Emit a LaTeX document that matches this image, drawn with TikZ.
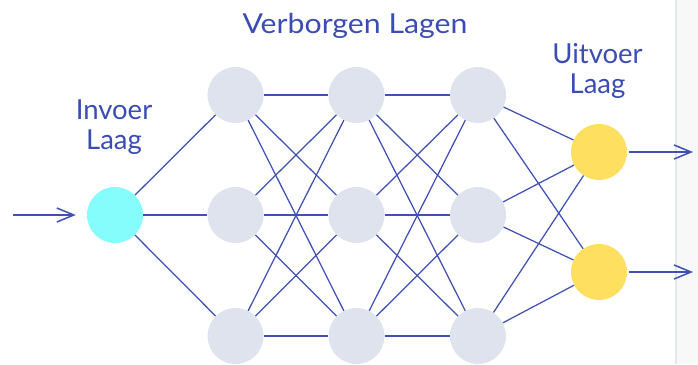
\documentclass[tikz,border=0pt]{standalone}
\usepackage{fontspec}
\setmainfont{Lato}
\usetikzlibrary{arrows.meta}
\definecolor{edgeblue}{HTML}{3F51B5}
\definecolor{labelblue}{HTML}{3A4CB5}
\definecolor{hiddenfill}{HTML}{DFE3EE}
\definecolor{inputfill}{HTML}{86FDFD}
\definecolor{outputfill}{HTML}{FEDF5F}
\definecolor{panelfill}{HTML}{F8F8F9}
\definecolor{panelline}{HTML}{E4E7EF}
\tikzset{
  neuron/.style={circle, minimum size=56pt, inner sep=0pt, draw=none},
  hiddenneuron/.style={neuron, fill=hiddenfill},
  inputneuron/.style={neuron, fill=inputfill},
  outputneuron/.style={neuron, fill=outputfill},
  link/.style={draw=edgeblue, line width=1.25pt},
  flow/.style={draw=edgeblue, line width=1.5pt, -{Straight Barb[length=17pt, width=14pt, line width=1.5pt]}},
  layerlabel/.style={text=labelblue, font=\fontsize{27.5}{30}\selectfont, align=center, inner sep=0pt}
}
\begin{document}
\begin{tikzpicture}[x=1pt, y=-1pt]
  \useasboundingbox (0,0) rectangle (698,364);
  % side panel on the right
  \fill[panelfill] (675,0) rectangle (698,364);
  \draw[panelline, line width=1.5pt] (676,0) -- (676,364);

  % neurons
  \node[inputneuron] (in) at (115,215) {};
  \foreach \c/\x in {1/235.5, 2/356.5, 3/478} {
    \node[hiddenneuron] (h\c1) at (\x,95) {};
    \node[hiddenneuron] (h\c2) at (\x,215) {};
    \node[hiddenneuron] (h\c3) at (\x,336) {};
  }
  \node[outputneuron] (o1) at (599,152) {};
  \node[outputneuron] (o2) at (599,272) {};

  % connections
  \foreach \j in {1,2,3} \draw[link] (in) -- (h1\j);
  \foreach \i in {1,2,3} \foreach \j in {1,2,3} {
    \draw[link] (h1\i) -- (h2\j);
    \draw[link] (h2\i) -- (h3\j);
  }
  \foreach \i in {1,2,3} \foreach \j in {1,2} \draw[link] (h3\i) -- (o\j);

  % input and output arrows
  \coordinate (src) at (13,215);
  \coordinate (out1) at (693,152);
  \coordinate (out2) at (693,272);
  \draw[flow, shorten >=11pt] (src) -- (in);
  \draw[flow, shorten <=2pt] (o1) -- (out1);
  \draw[flow, shorten <=2pt] (o2) -- (out2);

  % layer labels (anchor = baseline of the last line)
  \node[layerlabel, anchor=base, font=\fontsize{27.5}{30}\selectfont\addfontfeature{FakeStretch=1.1}] (lh) at (355,33) {Verborgen Lagen};
  \node[layerlabel, anchor=base] (li) at (114,149) {Invoer\\Laag};
  \node[layerlabel, anchor=base] (lo) at (597.5,93) {Uitvoer\\Laag};
\end{tikzpicture}
\end{document}
